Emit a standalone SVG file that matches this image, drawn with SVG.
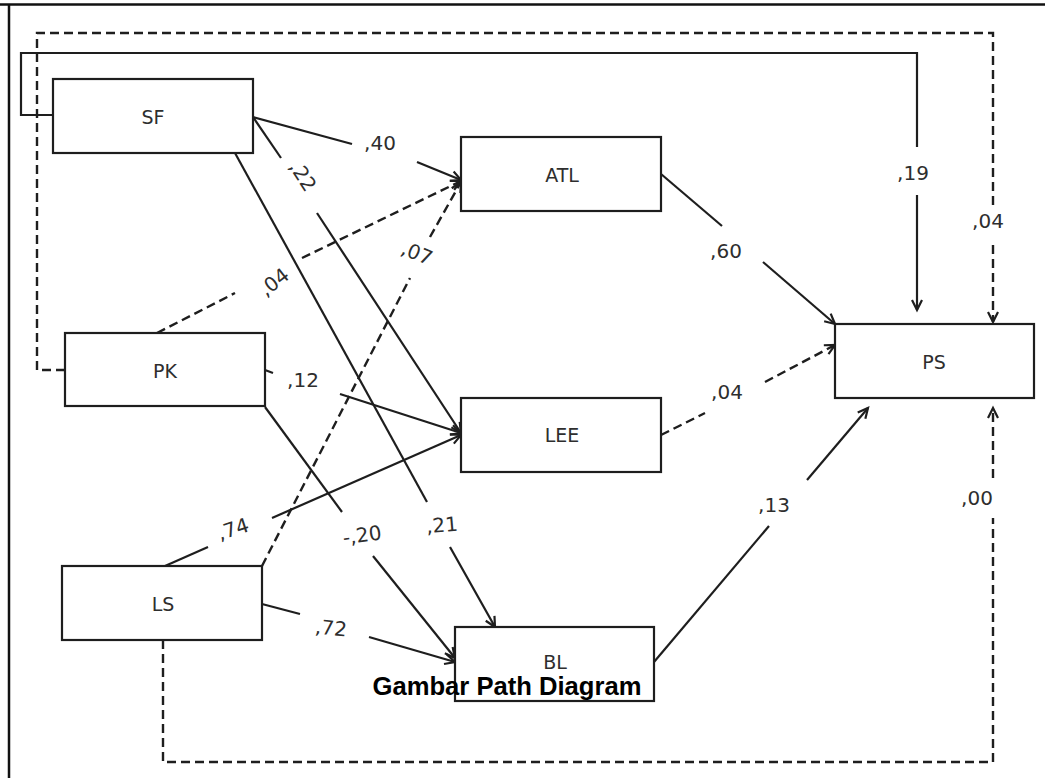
<svg xmlns="http://www.w3.org/2000/svg" width="1045" height="778" viewBox="0 0 1045 778">
<style>
  .box { fill: #fff; stroke: #1e1e1e; stroke-width: 2.2; }
  .lbl { font-family: "DejaVu Sans", Verdana, sans-serif; font-size: 19px; fill: #2e2e2e; text-anchor: middle; }
  .num { font-family: "DejaVu Sans", Verdana, sans-serif; font-size: 20px; fill: #2e2e2e; text-anchor: middle; }
  .ln { fill: none; stroke: #1e1e1e; stroke-width: 2.2; }
  .dash { fill: none; stroke: #1e1e1e; stroke-width: 2.4; stroke-dasharray: 9 5; }
  .title { font-family: "Liberation Sans", Arial, sans-serif; font-size: 25px; font-weight: bold; fill: #000; text-anchor: middle; }
</style>
<defs>
  <marker id="arr" markerUnits="userSpaceOnUse" markerWidth="14" markerHeight="14" refX="11" refY="7" orient="auto">
    <path d="M1,2 L11,7 L1,12" fill="none" stroke="#1e1e1e" stroke-width="2.2"/>
  </marker>
</defs>
<rect x="0" y="0" width="1045" height="778" fill="#fff"/>
<g id="frame">
  <line x1="0" y1="4.5" x2="1045" y2="4.5" stroke="#111" stroke-width="2.5"/>
  <line x1="9" y1="4" x2="9" y2="778" stroke="#111" stroke-width="2.5"/>
</g>
<g id="connectors">
  <!-- SF feedback to PS (,19) -->
  <path class="ln" d="M53,115 H21 V53 H917 V147"/>
  <path class="ln" d="M917,195 V310" marker-end="url(#arr)"/>
  <text class="num" x="913" y="180">,19</text>
  <!-- PK dashed feedback to PS (,04) -->
  <path class="dash" d="M65,370 H37 V33 H993 V205"/>
  <path class="dash" d="M993,245 V322" marker-end="url(#arr)"/>
  <text class="num" x="988" y="228">,04</text>
  <!-- LS dashed feedback to PS (,00) -->
  <path class="dash" d="M163,640 V762 H993 V518"/>
  <path class="dash" d="M993,478 V408" marker-end="url(#arr)"/>
  <text class="num" x="977" y="505">,00</text>
  <!-- SF -> ATL ,40 -->
  <path class="ln" d="M253,117 L352,144"/>
  <path class="ln" d="M417,162 L461,180" marker-end="url(#arr)"/>
  <text class="num" x="380" y="150">,40</text>
  <!-- SF -> LEE ,22 -->
  <path class="ln" d="M253,117 L281,158"/>
  <path class="ln" d="M317,213 L461,433" marker-end="url(#arr)"/>
  <text class="num" transform="translate(303,176) rotate(57)" x="0" y="7">,22</text>
  <!-- SF -> BL ,21 -->
  <path class="ln" d="M235,153 L427,502"/>
  <path class="ln" d="M450,547 L495,627" marker-end="url(#arr)"/>
  <text class="num" transform="translate(442,525) rotate(-5)" x="0" y="7">,21</text>
  <!-- PK -> ATL ,04 dashed -->
  <path class="dash" d="M157,333 L235,293"/>
  <path class="dash" d="M302,258 L461,181" marker-end="url(#arr)"/>
  <text class="num" transform="translate(274,282) rotate(-38)" x="0" y="7">,04</text>
  <!-- PK -> LEE ,12 -->
  <path class="ln" d="M265,370 L273,373"/>
  <path class="ln" d="M340,394 L461,433" marker-end="url(#arr)"/>
  <text class="num" x="303" y="387">,12</text>
  <!-- PK -> BL -,20 -->
  <path class="ln" d="M265,407 L342,512"/>
  <path class="ln" d="M373,556 L455,658" marker-end="url(#arr)"/>
  <text class="num" transform="translate(362,535) rotate(-8)" x="0" y="7">-,20</text>
  <!-- LS -> ATL ,07 dashed -->
  <path class="dash" d="M262,566 L410,278"/>
  <path class="dash" d="M430,237 L461,182" marker-end="url(#arr)"/>
  <text class="num" transform="translate(417,253) rotate(22)" x="0" y="7">,07</text>
  <!-- LS -> LEE ,74 -->
  <path class="ln" d="M165,566 L208,547"/>
  <path class="ln" d="M272,518 L461,435" marker-end="url(#arr)"/>
  <text class="num" transform="translate(233,529) rotate(-18)" x="0" y="7">,74</text>
  <!-- LS -> BL ,72 -->
  <path class="ln" d="M262,604 L300,614"/>
  <path class="ln" d="M369,637 L455,662" marker-end="url(#arr)"/>
  <text class="num" transform="translate(331,628) rotate(6)" x="0" y="7">,72</text>
  <!-- ATL -> PS ,60 -->
  <path class="ln" d="M661,174 L722,226"/>
  <path class="ln" d="M763,262 L835,324" marker-end="url(#arr)"/>
  <text class="num" x="726" y="258">,60</text>
  <!-- LEE -> PS ,04 dashed -->
  <path class="dash" d="M661,435 L705,413"/>
  <path class="dash" d="M765,382 L835,345" marker-end="url(#arr)"/>
  <text class="num" x="727" y="399">,04</text>
  <!-- BL -> PS ,13 -->
  <path class="ln" d="M654,662 L769,526"/>
  <path class="ln" d="M807,480 L868,408" marker-end="url(#arr)"/>
  <text class="num" x="774" y="512">,13</text>
</g>
<g id="node-SF">
  <rect class="box" x="53" y="79" width="200" height="74"/>
  <text class="lbl" x="153" y="124">SF</text>
</g>
<g id="node-ATL">
  <rect class="box" x="461" y="137" width="200" height="74"/>
  <text class="lbl" x="562" y="182">ATL</text>
</g>
<g id="node-PK">
  <rect class="box" x="65" y="333" width="200" height="73"/>
  <text class="lbl" x="165" y="378">PK</text>
</g>
<g id="node-LEE">
  <rect class="box" x="461" y="398" width="200" height="74"/>
  <text class="lbl" x="562" y="442">LEE</text>
</g>
<g id="node-LS">
  <rect class="box" x="62" y="566" width="200" height="74"/>
  <text class="lbl" x="163" y="611">LS</text>
</g>
<g id="node-BL">
  <rect class="box" x="455" y="627" width="199" height="74"/>
  <text class="lbl" x="555" y="669">BL</text>
</g>
<g id="node-PS">
  <rect class="box" x="835" y="324" width="199" height="74"/>
  <text class="lbl" x="934" y="369">PS</text>
</g>
<text class="title" x="507" y="695" textLength="269" lengthAdjust="spacingAndGlyphs">Gambar Path Diagram</text>
</svg>
